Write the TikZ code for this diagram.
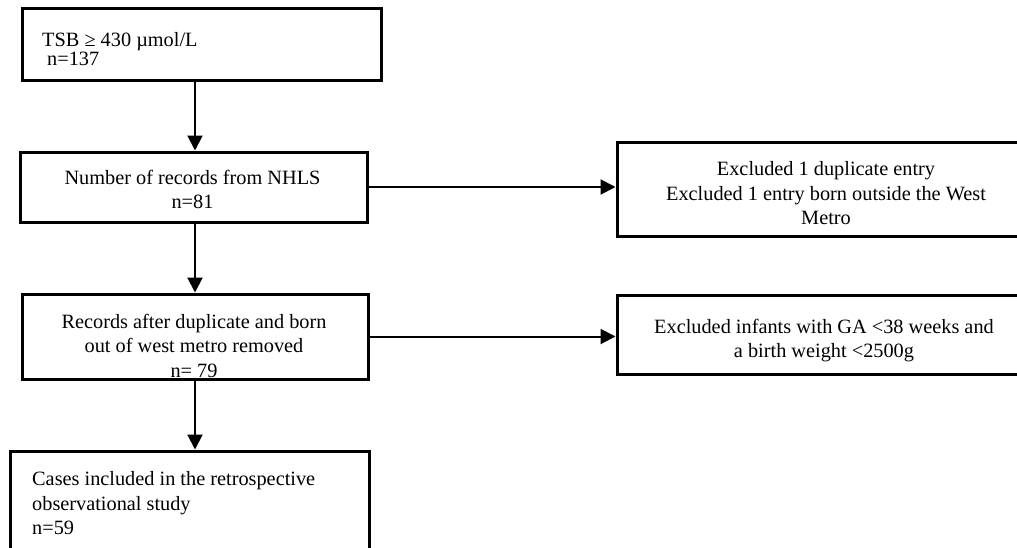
\documentclass[tikz,border=0pt]{standalone}
\usepackage{fontspec}
\setmainfont{Liberation Serif}
\usetikzlibrary{arrows.meta}
\begin{document}
\begin{tikzpicture}[x=1pt,y=-1pt,
  box/.style={draw=black, line width=3pt, rectangle, inner sep=0pt},
  txt/.style={inner sep=0pt, font=\fontsize{20.3}{24.5}\selectfont},
  arr/.style={draw=black, line width=2pt, -{Triangle[width=15pt,length=15pt]}}]
\path[use as bounding box, clip] (0,0) rectangle (1017,547);
\fill[white] (0,0) rectangle (1017,547);
% boxes
\node[box, minimum width=359pt, minimum height=72pt] (b1) at (201.5,44) {};
\node[box, minimum width=347pt, minimum height=70pt] (b2) at (193.5,187) {};
\node[box, minimum width=346pt, minimum height=85pt] (b3) at (195,336.5) {};
\node[box, minimum width=359pt, minimum height=110pt] (b4) at (189.5,506) {};
\node[box, minimum width=418pt, minimum height=94pt] (b5) at (826,189) {};
\node[box, minimum width=418pt, minimum height=79pt] (b6) at (826,334.5) {};
% texts
\node[txt, anchor=north west, align=left] (t1) at (42,32.5) {TSB ≥ 430 µmol/L\\[-5.5pt]\hspace*{5pt}n=137};
\node[txt, anchor=north, align=center] (t2) at (192.5,169.5) {Number of records from NHLS\\n=81};
\node[txt, anchor=north, align=center] (t3) at (194,313.5) {Records after duplicate and born\\out of west metro removed\\n= 79};
\node[txt, anchor=north west, align=left] (t4) at (32,471.5) {Cases included in the retrospective\\observational study\\n=59};
\node[txt, anchor=north, align=center] (t5) at (826,161.5) {Excluded 1 duplicate entry\\Excluded 1 entry born outside the West\\Metro};
\node[txt, anchor=north, align=center] (t6) at (824,318.5) {Excluded infants with GA <38 weeks and\\a birth weight <2500g};
% connectors
\draw[arr] (b1.south -| b3.north) -- (b2.north -| b3.north);
\draw[arr] (b2.south -| b3.north) -- (b3.north);
\draw[arr] (b3.south) -- (b4.north -| b3.south);
\draw[arr] (b2.east) -- (b2.east -| b5.west);
\draw[arr] (b3.east) -- (b3.east -| b6.west);
\end{tikzpicture}
\end{document}
